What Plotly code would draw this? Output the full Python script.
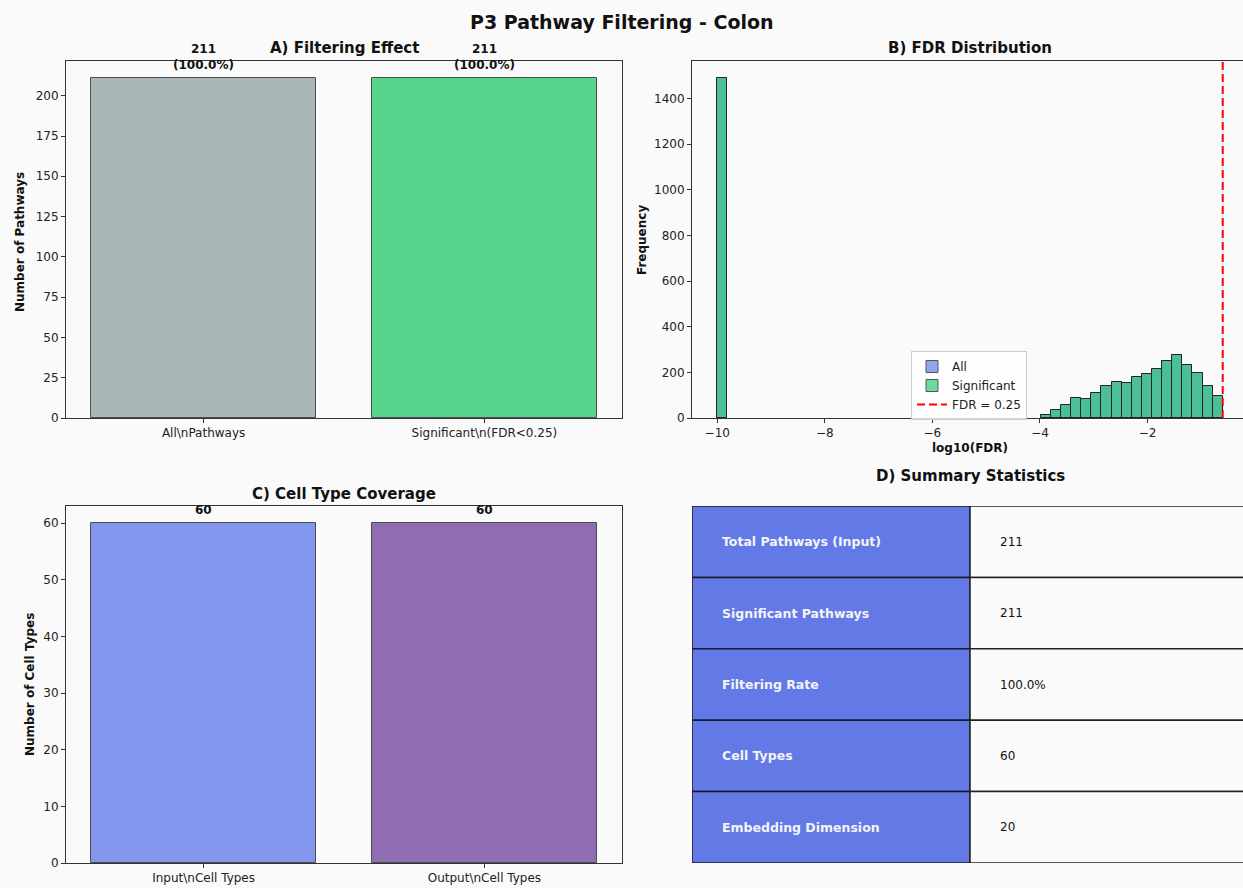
import numpy as np
import plotly.graph_objects as go

W, H = 1243, 888
BG = "#fafafa"
FONT = "DejaVu Sans"
INK = "#222222"

# ---- A) Filtering effect ----
filter_labels = ["All\\nPathways", "Significant\\n(FDR<0.25)"]
filter_counts = [211, 211]
filter_colors = ["#95a5a6", "#2ecc71"]

# ---- B) FDR distribution (log10 FDR, 50 bins from -10 up to the threshold) ----
fdr_threshold = 0.25
fdr_log_min = -10
fdr_n_bins = 50
fdr_counts_all = [1490] + [0] * 31 + [12, 37, 56, 89, 83, 111, 140, 159, 153,
                                      180, 193, 216, 248, 278, 231, 197, 142, 96]
fdr_counts_sig = list(fdr_counts_all)  # every pathway passes FDR < 0.25

# ---- C) Cell type coverage ----
cell_labels = ["Input\\nCell Types", "Output\\nCell Types"]
cell_counts = [60, 60]
cell_colors = ["#667eea", "#764ba2"]

# ---- D) Summary table ----
summary_metrics = ["Total Pathways (Input)", "Significant Pathways", "Filtering Rate",
                   "Cell Types", "Embedding Dimension"]
summary_values = ["211", "211", "100.0%", "60", "20"]


def fx(px):
    return px / W


def fy(py):
    return 1 - py / H


# panel boxes in pixels: (left, right, top, bottom)
boxA = (66, 622, 61, 418)
boxB = (692, 1243, 61, 418)
boxC = (66, 622, 506, 863)
boxD = (692, 1243, 506, 863)


def dom(box):
    l, r, t, b = box
    return [fx(l), fx(r)], [fy(b), fy(t)]


fig = go.Figure()

# A bars
fig.add_trace(go.Bar(
    x=filter_labels, y=filter_counts, width=0.8,
    marker=dict(color=filter_colors, opacity=0.8, line=dict(color="#222", width=1)),
    showlegend=False, xaxis="x", yaxis="y"))

# B histogram, drawn as bars on the computed bin edges
edges = np.linspace(fdr_log_min, np.log10(fdr_threshold), fdr_n_bins + 1)
centers = (edges[:-1] + edges[1:]) / 2
bw = edges[1] - edges[0]
for name, counts, color in [("All", fdr_counts_all, "#667eea"),
                            ("Significant", fdr_counts_sig, "#2ecc71")]:
    counts = np.array(counts)
    keep = counts > 0
    fig.add_trace(go.Bar(
        x=centers[keep], y=counts[keep], width=bw, name=name,
        marker=dict(color=color, line=dict(color="#111", width=1)),
        opacity=0.7, xaxis="x2", yaxis="y2"))

ymax_b = max(fdr_counts_all) * 1.05
fig.add_trace(go.Scatter(
    x=[np.log10(fdr_threshold)] * 2, y=[0, ymax_b], mode="lines",
    name=f"FDR = {fdr_threshold}",
    line=dict(color="red", width=2, dash="8px,4px"),
    xaxis="x2", yaxis="y2"))

# C bars
fig.add_trace(go.Bar(
    x=cell_labels, y=cell_counts, width=0.8,
    marker=dict(color=cell_colors, opacity=0.8, line=dict(color="#222", width=1)),
    showlegend=False, xaxis="x3", yaxis="y3"))

# an empty trace keeps the table axes alive
fig.add_trace(go.Scatter(x=[None], y=[None], showlegend=False, xaxis="x4", yaxis="y4"))

axis_common = dict(showline=True, mirror=True, linecolor="#333", linewidth=1,
                   ticks="outside", ticklen=4, tickcolor="#333", showgrid=False,
                   zeroline=False, automargin=False,
                   tickfont=dict(family=FONT, size=12, color=INK))

xdA, ydA = dom(boxA)
xdB, ydB = dom(boxB)
xdC, ydC = dom(boxC)
xdD, ydD = dom(boxD)

# B x-range: 5% pad each side of the data span, right side reaches the page edge
b_lo, b_hi = fdr_log_min, np.log10(fdr_threshold)
b_pad = 0.05 * (b_hi - b_lo)
px_per_unit = (boxB[1] - boxB[0] + 5) / ((b_hi + b_pad) - (b_lo - b_pad))
b_right = (b_lo - b_pad) + (boxB[1] - boxB[0]) / px_per_unit

layout = dict(
    width=W, height=H, margin=dict(l=0, r=0, t=0, b=0, autoexpand=False),
    paper_bgcolor=BG, plot_bgcolor=BG, barmode="overlay", bargap=0,
    font=dict(family=FONT, size=12, color=INK),
    xaxis=dict(domain=xdA, anchor="y", range=[-0.49, 1.49], type="category", **axis_common),
    yaxis=dict(domain=ydA, anchor="x", range=[0, max(filter_counts) * 1.05], dtick=25, **axis_common),
    xaxis2=dict(domain=xdB, anchor="y2", range=[b_lo - b_pad, b_right], dtick=2, tick0=0, **axis_common),
    yaxis2=dict(domain=ydB, anchor="x2", range=[0, ymax_b], dtick=200, **axis_common),
    xaxis3=dict(domain=xdC, anchor="y3", range=[-0.49, 1.49], type="category", **axis_common),
    yaxis3=dict(domain=ydC, anchor="x3", range=[0, max(cell_counts) * 1.05], dtick=10, **axis_common),
    xaxis4=dict(domain=xdD, anchor="y4", range=[0, 2 * (boxD[1] - boxD[0]) / (boxD[1] - boxD[0] + 5)],
                visible=False, fixedrange=True, automargin=False),
    yaxis4=dict(domain=ydD, anchor="x4", range=[len(summary_metrics), 0],
                visible=False, fixedrange=True, automargin=False),
    legend=dict(x=fx(911), y=fy(351), xanchor="left", yanchor="top",
                bgcolor="rgba(255,255,255,0.8)", bordercolor="#cccccc", borderwidth=1,
                font=dict(family=FONT, size=12, color=INK), tracegroupgap=0,
                itemwidth=30),
)

annotations = []
shapes = []


def text(x, y, s, size=12, bold=False, xref="paper", yref="paper", **kw):
    kw.setdefault("xanchor", "center")
    kw.setdefault("yanchor", "middle")
    annotations.append(dict(x=x, y=y, xref=xref, yref=yref, showarrow=False,
                            text=f"<b>{s}</b>" if bold else s,
                            font=dict(family=FONT, size=size, color=kw.pop("color", "#111")),
                            **kw))


# figure & panel titles
text(fx(621.5), fy(22), "P3 Pathway Filtering - Colon", size=19, bold=True)
text(fx(344), fy(48), "A) Filtering Effect", size=15, bold=True)
text(fx(970), fy(48), "B) FDR Distribution", size=15, bold=True)
text(fx(344), fy(494), "C) Cell Type Coverage", size=15, bold=True)
text(fx(970), fy(476), "D) Summary Statistics", size=15, bold=True)

# axis titles
text(fx(20), fy(242), "Number of Pathways", bold=True, textangle=-90)
text(fx(642), fy(240), "Frequency", bold=True, textangle=-90)
text(fx(970), fy(448), "log10(FDR)", bold=True)
text(fx(30), fy(685), "Number of Cell Types", bold=True, textangle=-90)

# value labels above bars
for lab, c in zip(filter_labels, filter_counts):
    text(lab, c, f"{c}<br>({c / filter_counts[0] * 100:.1f}%)", bold=True,
         xref="x", yref="y", yanchor="bottom", yshift=4)
for lab, c in zip(cell_labels, cell_counts):
    text(lab, c, f"{c}", bold=True, xref="x3", yref="y3", yanchor="bottom", yshift=4)

# summary table cells
for i, (m, v) in enumerate(zip(summary_metrics, summary_values)):
    shapes.append(dict(type="rect", xref="x4", yref="y4", x0=0, x1=1, y0=i, y1=i + 1,
                       fillcolor="#6279e6", line=dict(color="#1a1a2e", width=1.5), layer="above"))
    shapes.append(dict(type="rect", xref="x4", yref="y4", x0=1, x1=2, y0=i, y1=i + 1,
                       fillcolor=BG, line=dict(color="#222", width=1.5), layer="above"))
    text(0.1, i + 0.5, m, size=12.5, bold=True, xref="x4", yref="y4", xanchor="left",
         color="#f4f4f8")
    text(1.1, i + 0.5, v, xref="x4", yref="y4", xanchor="left")

layout["annotations"] = annotations
layout["shapes"] = shapes
fig.update_layout(**layout)

fig.write_html("out.html")
